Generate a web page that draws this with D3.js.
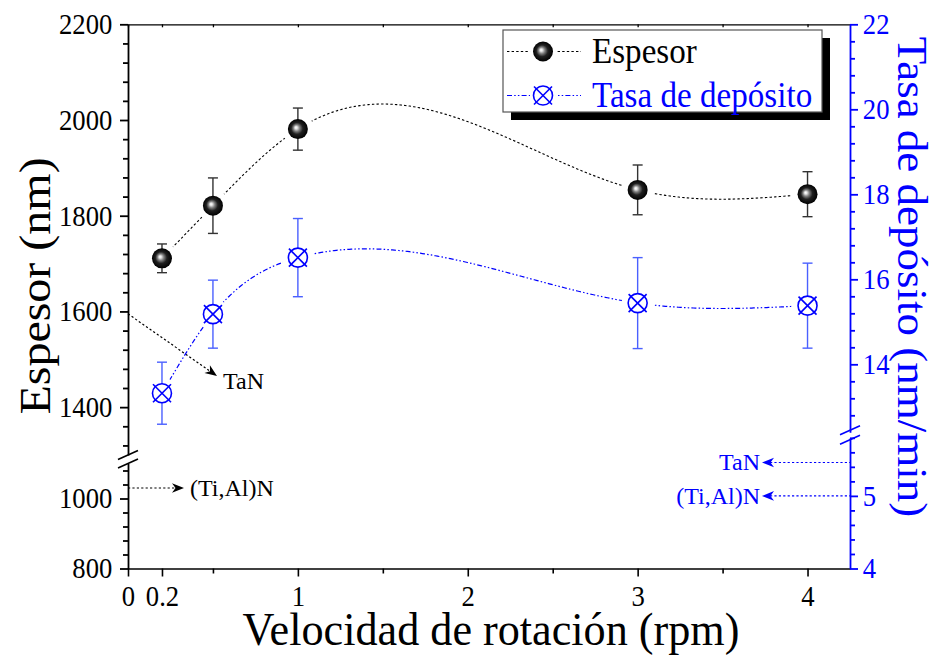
<!DOCTYPE html>
<html>
<head>
<meta charset="utf-8">
<script src="https://cdn.jsdelivr.net/npm/d3@7"></script>
<style>
  body { margin: 0; background: #fff; }
  svg { display: block; }
</style>
</head>
<body>
<svg id="chart" width="936" height="656"></svg>
<script>
// Rotation speed (rpm) and the two measured series
const rpm = [0.2, 0.5, 1, 3, 4];
const espesor = [1711, 1821, 1981, 1854, 1845];      // nm
const espesorErr = [30, 58, 44, 52, 47];
const tasa = [13.32, 15.18, 16.51, 15.44, 15.38];    // nm/min
const tasaErr = [0.73, 0.80, 0.92, 1.07, 1.00];

// Tick values
const xTicks = [0, 0.2, 1, 2, 3, 4];
const xMinor = [0.5, 1.5, 2.5, 3.5];
const leftUpperTicks = [1400, 1600, 1800, 2000, 2200];
const leftLowerTicks = [800, 1000];
const rightUpperTicks = [14, 16, 18, 20, 22];
const rightLowerTicks = [4, 5];

// Reference values marked on the axes
const refLeft = [{ label: "TaN", value: 1595 }, { label: "(Ti,Al)N", value: 1030 }];
const refRight = [{ label: "TaN", value: 5.46 }, { label: "(Ti,Al)N", value: 5.0 }];

const SERIF = '"Liberation Serif","Times New Roman",serif';
const BLUE = "#0000ff";
const BAR_BLUE = "#4a60ff";
const SQ = 0.92;   // narrow set of the serif lettering

const svg = d3.select("#chart");
const X0 = 128, X1 = 850, YT = 24.3, YB = 568.5;

const x = d3.scaleLinear().domain([0, 4.25]).range([X0, X1]);
// broken left axis (nm)
const yLU = d3.scaleLinear().domain([1300, 2200]).range([455, YT]);
const yLL = d3.scaleLinear().domain([800, 1100]).range([YB, 463.5]);
// broken right axis (nm/min)
const yRU = d3.scaleLinear().domain([12.4, 22]).range([432.3, YT]);
const yRL = d3.scaleLinear().domain([4, 5.8]).range([YB, 437.8]);
const yL = v => v >= 1200 ? yLU(v) : yLL(v);
const yR = v => v >= 9 ? yRU(v) : yRL(v);

// natural cubic spline y(x) through the measured points
function naturalSpline(xs, ys) {
  const n = xs.length, h = [], M = new Array(n).fill(0);
  for (let i = 0; i < n - 1; i++) h.push(xs[i + 1] - xs[i]);
  const a = [], b = [], c = [], d = [];
  for (let i = 1; i < n - 1; i++) {
    a.push(h[i - 1]); b.push(2 * (h[i - 1] + h[i])); c.push(h[i]);
    d.push(6 * ((ys[i + 1] - ys[i]) / h[i] - (ys[i] - ys[i - 1]) / h[i - 1]));
  }
  const m = b.length;
  for (let i = 1; i < m; i++) {
    const w = a[i] / b[i - 1];
    b[i] -= w * c[i - 1]; d[i] -= w * d[i - 1];
  }
  const sol = new Array(m);
  sol[m - 1] = d[m - 1] / b[m - 1];
  for (let i = m - 2; i >= 0; i--) sol[i] = (d[i] - c[i] * sol[i + 1]) / b[i];
  for (let i = 0; i < m; i++) M[i + 1] = sol[i];
  return t => {
    let k = 0;
    while (k < n - 2 && t > xs[k + 1]) k++;
    const hk = h[k], A = xs[k + 1] - t, B = t - xs[k];
    return M[k] * A * A * A / (6 * hk) + M[k + 1] * B * B * B / (6 * hk)
      + (ys[k] / hk - M[k] * hk / 6) * A + (ys[k + 1] / hk - M[k + 1] * hk / 6) * B;
  };
}
function sampleSpline(xs, ys) {
  const f = naturalSpline(xs, ys), lo = xs[0], hi = xs[xs.length - 1];
  return d3.range(0, 301).map(j => { const t = lo + (hi - lo) * j / 300; return [t, f(t)]; });
}

const defs = svg.append("defs");
const grad = defs.append("radialGradient").attr("id", "sphere")
  .attr("cx", 0.5).attr("cy", 0.5).attr("r", 0.5).attr("fx", 0.4).attr("fy", 0.42);
[[0, "#ffffff"], [0.12, "#e6e6e6"], [0.32, "#808080"], [0.58, "#202020"], [1, "#000000"]]
  .forEach(([o, c]) => grad.append("stop").attr("offset", o).attr("stop-color", c));

function styleAxis(g, color, width) {
  g.select(".domain").attr("stroke", color).attr("stroke-width", width);
  g.selectAll(".tick line").attr("stroke", color).attr("stroke-width", width);
  g.selectAll(".tick text").attr("fill", color).attr("font-family", SERIF).attr("font-size", 29)
    .attr("transform", `scale(${SQ},1)`);
  return g;
}
function minorOnly(g) { g.select(".domain").remove(); g.selectAll("text").remove(); return g; }

// ----- x axis -----
const xAxisG = styleAxis(svg.append("g").attr("transform", `translate(0,${YB})`)
  .call(d3.axisBottom(x).tickValues(xTicks).tickFormat(d3.format("~g"))
    .tickSize(8).tickSizeOuter(0).tickPadding(10)), "#000", 1.6);
xAxisG.selectAll(".tick text").attr("dy", null).attr("y", 38);
minorOnly(styleAxis(svg.append("g").attr("transform", `translate(0,${YB})`)
  .call(d3.axisBottom(x).tickValues(xMinor).tickFormat("").tickSize(5)), "#000", 1.6));
const topG = styleAxis(svg.append("g").attr("transform", `translate(0,${YT})`)
  .call(d3.axisTop(x).tickValues(xTicks.concat(xMinor)).tickFormat("")
    .tickSize(-3).tickSizeOuter(0)), "#000", 1.3);
topG.selectAll("text").remove();

// ----- y axes, each in two segments -----
function segmentAxis(axisFn, scale, major, minor, tx, color, fmt, pad) {
  styleAxis(svg.append("g").attr("transform", `translate(${tx},0)`)
    .call(axisFn(scale).tickValues(major).tickFormat(fmt).tickSize(8).tickSizeOuter(0).tickPadding(pad)), color, 1.8);
  minorOnly(styleAxis(svg.append("g").attr("transform", `translate(${tx},0)`)
    .call(axisFn(scale).tickValues(minor).tickFormat("").tickSize(5)), color, 1.8));
}
const fmt = d3.format("~g");
const leftUpperMinor = d3.range(1320, 2200, 40).filter(v => !leftUpperTicks.includes(v));
const leftLowerMinor = d3.range(840, 1100, 40).filter(v => !leftLowerTicks.includes(v));
segmentAxis(d3.axisLeft, yLU, leftUpperTicks, leftUpperMinor, X0, "#000", d3.format("d"), 9);
segmentAxis(d3.axisLeft, yLL, leftLowerTicks, leftLowerMinor, X0, "#000", d3.format("d"), 9);

const rightUpperMinor = d3.range(32, 55).map(i => +(i * 0.4).toFixed(1))
  .filter(v => Math.abs(v - Math.round(v)) > 0.01 || Math.round(v) % 2 === 1);
const rightLowerMinor = d3.range(21, 30).map(i => +(i * 0.2).toFixed(1)).filter(v => v !== 5);
segmentAxis(d3.axisRight, yRU, rightUpperTicks, rightUpperMinor, X1, BLUE, fmt, 6);
segmentAxis(d3.axisRight, yRL, rightLowerTicks, rightLowerMinor, X1, BLUE, fmt, 6);

// axis break marks
function breakMarks(xPos, ys, color) {
  ys.forEach(y => svg.append("line")
    .attr("x1", xPos - 10).attr("y1", y + 4.5).attr("x2", xPos + 10).attr("y2", y - 4.5)
    .attr("stroke", color).attr("stroke-width", 1.6));
}
breakMarks(X0, [yLU(1300), yLL(1100)], "#000");
breakMarks(X1, [yRU(12.4) - 2, yRL(5.8) + 2], BLUE);

// ----- axis titles -----
svg.append("text").attr("transform", "translate(491,645) scale(0.94,1)").attr("text-anchor", "middle")
  .attr("font-family", SERIF).attr("font-size", 47).text("Velocidad de rotación (rpm)");
svg.append("text").attr("transform", `translate(50,286) scale(${SQ},1) rotate(-90)`).attr("text-anchor", "middle")
  .attr("font-family", SERIF).attr("font-size", 48).text("Espesor (nm)");
svg.append("text").attr("transform", `translate(898,277) scale(${SQ},1) rotate(90)`).attr("text-anchor", "middle")
  .attr("font-family", SERIF).attr("font-size", 45).attr("fill", BLUE).text("Tasa de depósito (nm/min)");

// ----- reference arrows -----
function arrowHead(tx, ty, angle, color) {
  svg.append("path").attr("d", "M0,0L-12,-4.8L-8.5,0L-12,4.8Z")
    .attr("transform", `translate(${tx},${ty}) rotate(${angle})`).attr("fill", color);
}
function dottedLine(x1, y1, x2, y2, color) {
  svg.append("line").attr("x1", x1).attr("y1", y1).attr("x2", x2).attr("y2", y2)
    .attr("stroke", color).attr("stroke-width", 1.2).attr("stroke-dasharray", "2.2,2.2");
}
{
  const a = refLeft[0], y0 = yL(a.value), tip = [217, 376];
  dottedLine(X0, y0, tip[0] - 8, tip[1] - 5.5, "#000");
  arrowHead(tip[0], tip[1], Math.atan2(tip[1] - y0, tip[0] - X0) * 180 / Math.PI, "#000");
  svg.append("text").attr("x", tip[0] + 6).attr("y", tip[1] + 13).attr("font-family", SERIF)
    .attr("font-size", 24).text(a.label);
  const b = refLeft[1], yb = yL(b.value);
  dottedLine(X0, yb, 176, yb, "#000");
  arrowHead(184, yb, 0, "#000");
  svg.append("text").attr("x", 190).attr("y", yb + 8).attr("font-family", SERIF)
    .attr("font-size", 24).text(b.label);
}
refRight.forEach(r => {
  const yy = yR(r.value);
  dottedLine(770, yy, X1, yy, BLUE);
  arrowHead(762, yy, 180, BLUE);
  svg.append("text").attr("x", 760).attr("y", yy + 8).attr("text-anchor", "end")
    .attr("font-family", SERIF).attr("font-size", 24).attr("fill", BLUE).text(r.label);
});

// ----- spline curves through the data -----
const espCurve = d3.line().x(d => x(d[0])).y(d => yL(d[1]));
const tasaCurve = d3.line().x(d => x(d[0])).y(d => yR(d[1]));
svg.append("path").attr("d", espCurve(sampleSpline(rpm, espesor))).attr("fill", "none")
  .attr("stroke", "#000").attr("stroke-width", 1.1).attr("stroke-dasharray", "2.4,2.2");
svg.append("path").attr("d", tasaCurve(sampleSpline(rpm, tasa))).attr("fill", "none")
  .attr("stroke", BLUE).attr("stroke-width", 1.2).attr("stroke-dasharray", "5,2.2,1.5,2.2,1.5,2.2");

const espPts = rpm.map((r, i) => [x(r), yL(espesor[i])]);
const tasaPts = rpm.map((r, i) => [x(r), yR(tasa[i])]);
// gaps in the lines around each symbol
espPts.concat(tasaPts).forEach(p => svg.append("circle")
  .attr("cx", p[0]).attr("cy", p[1]).attr("r", 16).attr("fill", "#fff"));

// ----- error bars -----
function errorBars(vals, errs, yFn, color) {
  rpm.forEach((r, i) => {
    const cx = x(r), y1 = yFn(vals[i] + errs[i]), y2 = yFn(vals[i] - errs[i]);
    const g = svg.append("g").attr("stroke", color).attr("stroke-width", 1.4);
    g.append("line").attr("x1", cx).attr("x2", cx).attr("y1", y1).attr("y2", y2);
    g.append("line").attr("x1", cx - 5).attr("x2", cx + 5).attr("y1", y1).attr("y2", y1);
    g.append("line").attr("x1", cx - 5).attr("x2", cx + 5).attr("y1", y2).attr("y2", y2);
  });
}
errorBars(espesor, espesorErr, yL, "#333");
errorBars(tasa, tasaErr, yR, BAR_BLUE);

// ----- symbols -----
function sphere(g, cx, cy) {
  g.append("circle").attr("cx", cx).attr("cy", cy).attr("r", 10).attr("fill", "url(#sphere)");
}
function crossCircle(g, cx, cy) {
  const s = g.append("g").attr("stroke", BLUE).attr("stroke-width", 1.6);
  s.append("circle").attr("cx", cx).attr("cy", cy).attr("r", 9.5).attr("fill", "#fff");
  s.append("line").attr("x1", cx - 9).attr("y1", cy - 9).attr("x2", cx + 9).attr("y2", cy + 9);
  s.append("line").attr("x1", cx - 9).attr("y1", cy + 9).attr("x2", cx + 9).attr("y2", cy - 9);
}
espPts.forEach(p => sphere(svg, p[0], p[1]));
tasaPts.forEach(p => crossCircle(svg, p[0], p[1]));

// ----- legend -----
const lg = svg.append("g");
lg.append("rect").attr("x", 511).attr("y", 38).attr("width", 319).attr("height", 82).attr("fill", "#000");
lg.append("rect").attr("x", 503).attr("y", 30).attr("width", 319).attr("height", 82)
  .attr("fill", "#fff").attr("stroke", "#555").attr("stroke-width", 1.2);
lg.append("line").attr("x1", 507).attr("x2", 581).attr("y1", 51.5).attr("y2", 51.5)
  .attr("stroke", "#000").attr("stroke-width", 1.1).attr("stroke-dasharray", "2.4,2.2");
lg.append("circle").attr("cx", 543).attr("cy", 51.5).attr("r", 13).attr("fill", "#fff");
sphere(lg, 543, 51.5);
lg.append("text").attr("transform", `translate(592,63) scale(${SQ},1)`)
  .attr("font-family", SERIF).attr("font-size", 36).text("Espesor");
lg.append("line").attr("x1", 507).attr("x2", 581).attr("y1", 95.5).attr("y2", 95.5)
  .attr("stroke", BLUE).attr("stroke-width", 1.2).attr("stroke-dasharray", "5,2.2,1.5,2.2,1.5,2.2");
lg.append("circle").attr("cx", 543).attr("cy", 95.5).attr("r", 13).attr("fill", "#fff");
crossCircle(lg, 543, 95.5);
lg.append("text").attr("transform", `translate(592,107) scale(${SQ},1)`)
  .attr("font-family", SERIF).attr("font-size", 36).attr("fill", BLUE).text("Tasa de depósito");
</script>
</body>
</html>
